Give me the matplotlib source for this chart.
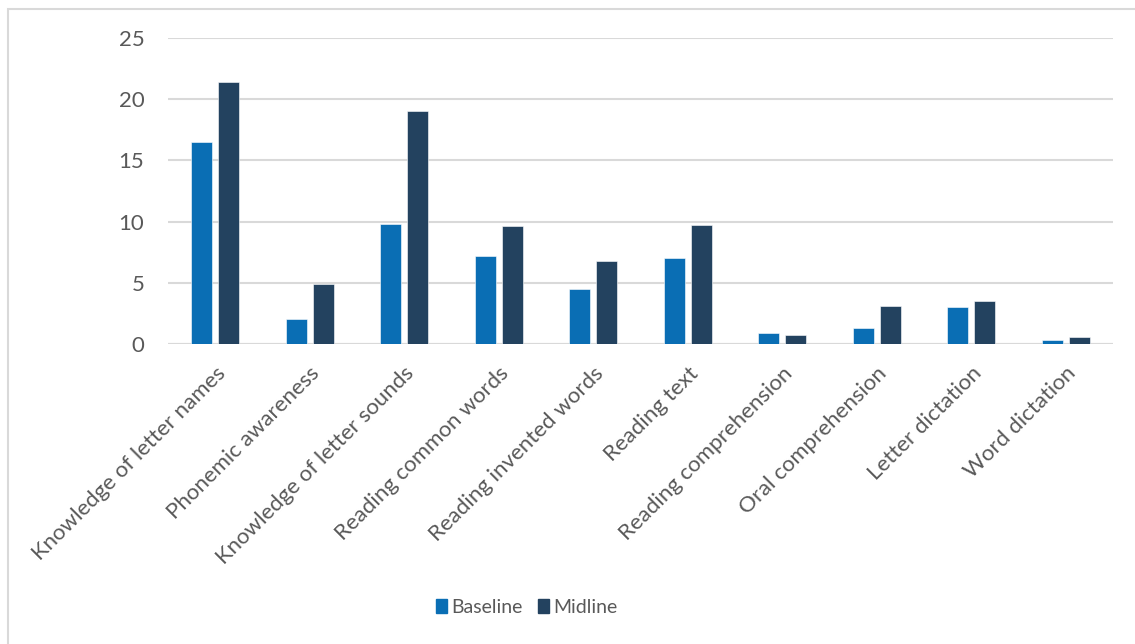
import matplotlib; matplotlib.use("Agg")
import matplotlib.pyplot as plt
import matplotlib.patches as mpatches
import numpy as np

plt.rcParams["font.family"] = ["Lato", "DejaVu Sans"]

categories = ["Knowledge of letter names", "Phonemic awareness", "Knowledge of letter sounds",
              "Reading common words", "Reading invented words", "Reading text",
              "Reading comprehension", "Oral comprehension", "Letter dictation", "Word dictation"]
baseline = [16.5, 2.0, 9.8, 7.2, 4.5, 7.0, 0.9, 1.3, 3.0, 0.3]
midline = [21.4, 4.9, 19.0, 9.6, 6.8, 9.7, 0.7, 3.1, 3.5, 0.55]
yticks = [0, 5, 10, 15, 20, 25]

c_base = "#0A6EB4"
c_mid = "#23425F"
grey = "#595959"

fig = plt.figure(figsize=(11.35, 6.44), dpi=100)
ax = fig.add_axes([0.148, 0.466, 0.8326, 0.475])

x = np.arange(len(categories))
w = 0.222
off = 0.143
ax.bar(x - off, baseline, w, color=c_base, edgecolor="white", linewidth=0.4, label="Baseline", zorder=3)
ax.bar(x + off, midline, w, color=c_mid, edgecolor="white", linewidth=0.4, label="Midline", zorder=3)

ax.set_xlim(-0.5, len(categories) - 0.5)
ax.set_ylim(0, 25)
ax.set_yticks(yticks)
ax.grid(axis="y", color="#D9D9D9", lw=1.5, zorder=0)
for s in ["top", "right", "left", "bottom"]:
    ax.spines[s].set_visible(False)
ax.axhline(0, color="#D9D9D9", lw=1.5, zorder=1)
ax.tick_params(axis="both", length=0, labelsize=16, labelcolor=grey)
ax.tick_params(axis="y", pad=17)
ax.set_xticks(x)
ax.set_xticklabels(categories, rotation=45, ha="right", rotation_mode="anchor")
ax.tick_params(axis="x", pad=14)

handles = [mpatches.Patch(color=c_base, label="Baseline"), mpatches.Patch(color=c_mid, label="Midline")]
fig.legend(handles=handles, loc="center", bbox_to_anchor=(0.464, 0.057), ncol=2, frameon=False,
           fontsize=14, labelcolor=grey, handlelength=0.57, handleheight=0.75, handletextpad=0.2,
           columnspacing=0.8)

# outer chart frame (cropped on the right and bottom)
fig.patches.append(mpatches.Rectangle((8 / 1135, -0.1), 1.2, 1 - 9 / 644 + 0.1,
                                      transform=fig.transFigure, fill=False,
                                      edgecolor="#D9D9D9", lw=1.5))

fig.savefig("out.png", dpi=100)
